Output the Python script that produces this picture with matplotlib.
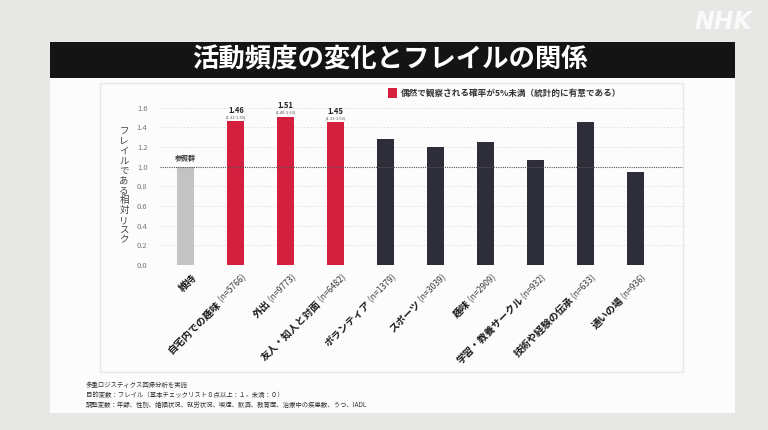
import matplotlib
matplotlib.use("Agg")
import numpy as np
import matplotlib.pyplot as plt
from matplotlib.patches import Rectangle

plt.rcParams['font.family'] = ['Noto Sans CJK JP', 'DejaVu Sans']

# データ
categories = ["維持", "自宅内での趣味", "外出", "友人・知人と対面", "ボランティア",
              "スポーツ", "趣味", "学習・教養サークル", "技術や経験の伝承", "通いの場"]
counts = [None, 5766, 9773, 6482, 1379, 3039, 2909, 932, 633, 936]
risk = [1.00, 1.46, 1.51, 1.45, 1.28, 1.20, 1.25, 1.07, 1.45, 0.95]
significant = [False, True, True, True, False, False, False, False, False, False]
ci_text = ["", "(1.33-1.59)", "(1.40-1.63)", "(1.31-1.59)", "", "", "", "", "", ""]
yticks = [0.0, 0.2, 0.4, 0.6, 0.8, 1.0, 1.2, 1.4, 1.6]

W, H = 768, 430
RED = "#d41f3f"
DARK = "#2d2e3a"
GREY = "#c3c3c3"

fig = plt.figure(figsize=(W / 100, H / 100), dpi=100)
fig.patch.set_facecolor("#e7e7e5")


def px_rect(x0, y0, x1, y1, **kw):
    # ピクセル座標(左上原点)で矩形を描く
    r = Rectangle((x0 / W, 1 - y1 / H), (x1 - x0) / W, (y1 - y0) / H,
                  transform=fig.transFigure, **kw)
    fig.add_artist(r)
    return r


# 白いカードとタイトル帯
px_rect(50, 42, 735, 413, facecolor="#fcfcfc", edgecolor="none", zorder=0)
px_rect(100, 83, 683, 372, facecolor="none", edgecolor="#e6e6e6", lw=0.8, zorder=1)
px_rect(50, 42, 735, 78, facecolor="#141414", edgecolor="none", zorder=1)
fig.text(390 / W, 1 - 60 / H, "活動頻度の変化とフレイルの関係", color="white",
         fontsize=19, fontweight="bold", ha="center", va="center")
fig.text(723 / W, 1 - 22 / H, "NHK", color="white", alpha=0.8, fontsize=17,
         fontweight="bold", style="italic", ha="center", va="center",
         family=["DejaVu Sans"])

# 棒グラフ
ax = fig.add_axes([160 / W, (H - 265) / H, (685 - 160) / W, (265 - 102.8) / H])
ax.set_facecolor("none")
x = list(range(len(categories)))
colors = [GREY if i == 0 else (RED if s else DARK) for i, s in enumerate(significant)]
ax.bar(x, risk, width=0.34, color=colors, zorder=3)
ax.set_xlim(-0.52, 10.0)
ax.set_ylim(0, 1.65)
ax.set_yticks(yticks)
ax.set_yticklabels([f"{v:.1f}" for v in yticks], fontsize=5.5, color="#777777")
ax.tick_params(axis="y", length=0, pad=9)
ax.set_xticks([])
for s in ax.spines.values():
    s.set_visible(False)
for v in yticks:
    if v == 1.0:
        ax.axhline(v, color="#555555", lw=0.8, ls=(0, (1, 1)), zorder=4)
    elif v > 0:
        ax.axhline(v, color="#dddddd", lw=0.6, ls=(0, (2, 2)), zorder=1)

# 値ラベル
ax.text(0, 1.05, "参照群", ha="center", va="bottom", fontsize=5, color="#333333",
        fontweight="bold")
for i, (v, c) in enumerate(zip(risk, ci_text)):
    if significant[i]:
        ax.text(i, v + 0.07, f"{v:.2f}", ha="center", va="bottom", fontsize=5.5,
                fontweight="bold", color="#222222")
        ax.text(i, v + 0.025, c, ha="center", va="bottom", fontsize=3,
                color="#555555")

# x軸ラベル: 名前は太字、(n=...)は細字
renderer = fig.canvas.get_renderer()
ang = np.deg2rad(45)
for i, (name, n) in enumerate(zip(categories, counts)):
    x0, y0 = ax.transData.transform((i + 0.12, -0.08))
    if n is not None:
        t = ax.text(i + 0.12, -0.08, f" (n={n})", rotation=45, rotation_mode="anchor",
                    ha="right", va="top", fontsize=6.2, color="#3a3a3a")
        tmp = fig.text(0, 0, f" (n={n})", fontsize=6.2)
        w = tmp.get_window_extent(renderer).width
        tmp.remove()
        x0 -= w * np.cos(ang)
        y0 -= w * np.sin(ang)
    xd, yd = ax.transData.inverted().transform((x0, y0))
    ax.text(xd, yd, name, rotation=45, rotation_mode="anchor", ha="right", va="top",
            fontsize=7.2, fontweight="bold", color="#1a1a1a")

# y軸タイトル(縦書き)
ylab = "フレイルである相対リスク"
fig.text(124 / W, 1 - 186 / H, "\n".join(ylab), ha="center", va="center",
         fontsize=6.8, linespacing=1.12, color="#444444")

# 凡例
px_rect(388, 88, 397, 98, facecolor=RED, edgecolor="none", zorder=2)
fig.text(401 / W, 1 - 93 / H, "偶然で観察される確率が5%未満（統計的に有意である）",
         ha="left", va="center", fontsize=6.2, fontweight="bold", color="#333333")

# 注記
notes = ["多重ロジスティクス回帰分析を実施",
         "目的変数：フレイル（基本チェックリスト８点以上：１，未満：０）",
         "調整変数：年齢、性別、婚姻状況、就労状況、喫煙、飲酒、教育歴、治療中の疾患数、うつ、IADL"]
for k, t in enumerate(notes):
    fig.text(86 / W, 1 - (385 + k * 10) / H, t, ha="left", va="center",
             fontsize=4.6, color="#333333")

fig.savefig("out.png", dpi=100, facecolor=fig.get_facecolor())
